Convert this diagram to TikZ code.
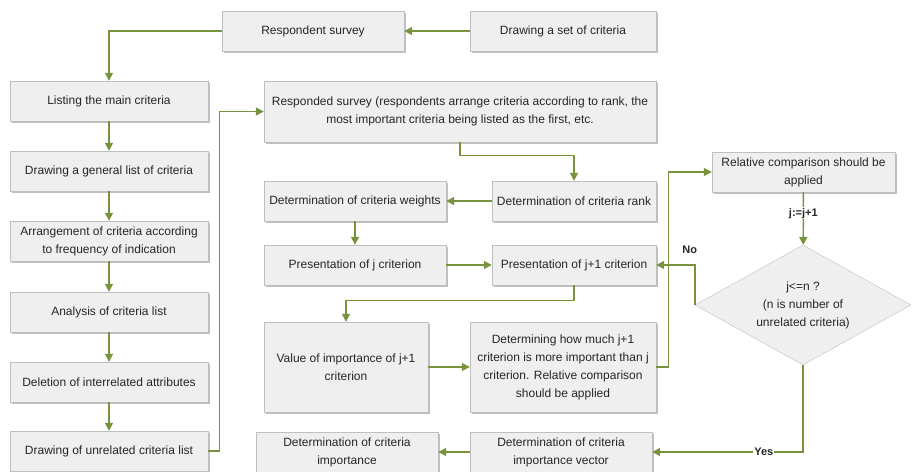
\documentclass[tikz,border=0pt]{standalone}
\usepackage{fontspec}
\setmainfont{Liberation Sans}
\usetikzlibrary{arrows.meta,shapes.geometric,shadows}
\definecolor{flowgreen}{HTML}{77933C}
\definecolor{boxfill}{HTML}{EFEFEF}
\definecolor{boxline}{HTML}{BFBFBF}
\definecolor{textgray}{HTML}{262626}

\begin{document}
\begin{tikzpicture}[x=1pt, y=-1pt,
  box/.style={rectangle, draw=boxline, fill=boxfill, align=center, inner sep=2pt,
              text=textgray, font=\fontsize{12}{18}\selectfont,
              drop shadow={shadow xshift=1.5pt, shadow yshift=-1.5pt, opacity=0.25, fill=black}},
  colbox/.style={box, minimum width=198pt, minimum height=40pt},
  check/.style={diamond, draw=boxline, fill=boxfill, align=center, inner sep=0pt,
                aspect=1.8, minimum width=216pt, minimum height=120pt,
                text=textgray, font=\fontsize{12}{18}\selectfont},
  arr/.style={-{Triangle[length=8pt, width=8pt]}, flowgreen, line width=1.4pt},
  lbl/.style={font=\bfseries\fontsize{11}{13}\selectfont, text=textgray, fill=white, inner sep=1pt}
]
\useasboundingbox (0,0) rectangle (912,471);

% top row
\node[box, minimum width=182pt, minimum height=40pt] (resp) at (313,31) {Respondent survey};
\node[box, minimum width=186pt, minimum height=40pt] (set) at (563,31) {Drawing a set of criteria};

% left column
\node[colbox] (listing) at (109,101) {Listing the main criteria};
\node[colbox] (general) at (109,171) {Drawing a general list of criteria};
\node[colbox] (arrange) at (109,241) {Arrangement of criteria according\\to frequency of indication};
\node[colbox] (analysis) at (109,312) {Analysis of criteria list};
\node[colbox] (deletion) at (109,382) {Deletion of interrelated attributes};
\node[colbox] (unrel) at (109,451) {Drawing of unrelated criteria list};

% middle part
\node[box, minimum width=392pt, minimum height=61pt] (survey) at (460,111.5)
  {Responded survey (respondents arrange criteria according to rank, the\\most important criteria being listed as the first, etc.};
\node[box, minimum width=182pt, minimum height=40pt] (weights) at (355,201) {Determination of criteria weights};
\node[box, minimum width=164pt, minimum height=40pt] (rank) at (574,201) {Determination of criteria rank};
\node[box, minimum width=182pt, minimum height=40pt] (presj) at (355,265) {Presentation of j criterion};
\node[box, minimum width=164pt, minimum height=40pt] (presj1) at (574,265) {Presentation of j+1 criterion};
\node[box, minimum width=164pt, minimum height=90pt] (value) at (346,367) {Value of importance of j+1\\criterion};
\node[box, minimum width=186pt, minimum height=90pt] (howmuch) at (563,367)
  {Determining how much j+1\\criterion is more important than j\\criterion. Relative comparison\\should be applied};
\node[box, minimum width=182pt, minimum height=40pt] (importance) at (347,452) {Determination of criteria\\importance};
\node[box, minimum width=182pt, minimum height=40pt] (vector) at (561,452) {Determination of criteria\\importance vector};

% right part
\node[box, minimum width=183pt, minimum height=40pt] (relcomp) at (803.5,172) {Relative comparison should be\\applied};
\node[check] (test) at (803,305) {j<=n ?\\(n is number of\\unrelated criteria)};

% connectors
\draw[arr] (set) -- (resp);
\draw[arr] (resp.west) -| (listing);
\foreach \a/\b in {listing/general, general/arrange, arrange/analysis, analysis/deletion, deletion/unrel}
  \draw[arr] (\a) -- (\b);
\draw[arr] (unrel.east) -- ++(11,0) |- (survey);
\draw[arr] (survey.south) -- ++(0,13) -| (rank);
\draw[arr] (rank) -- (weights);
\draw[arr] (weights) -- (presj);
\draw[arr] (presj) -- (presj1);
\draw[arr] (presj1.south) -- ++(0,15) -| (value);
\draw[arr] (value) -- (howmuch);
\draw[arr] (howmuch.east) -- ++(12,0) |- (relcomp);
\draw[arr] (relcomp) -- node[lbl, pos=0.4] {j:=j+1} (test);
\draw[arr] (test.west) |- node[lbl, pos=0.5, above, xshift=-5pt, yshift=10pt] {No} (presj1);
\draw[arr] (test.south) |- node[lbl, pos=0.63] {Yes} (vector);
\draw[arr] (vector) -- (importance);
\end{tikzpicture}
\end{document}
